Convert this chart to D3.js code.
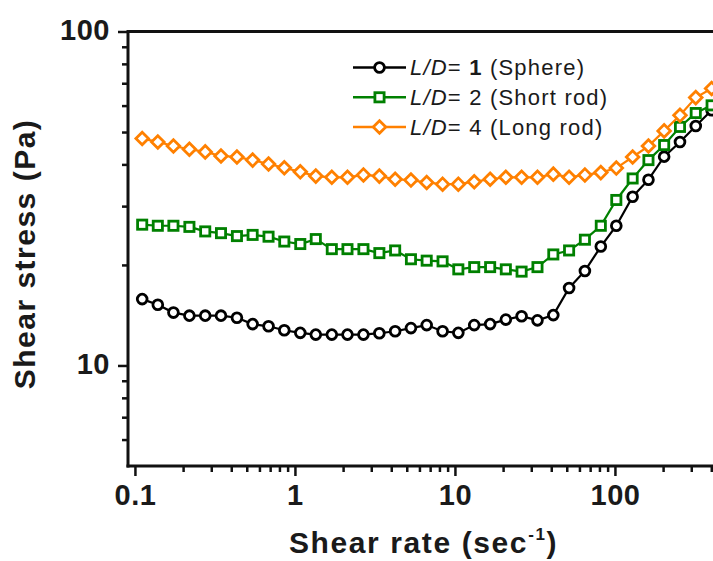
<!DOCTYPE html>
<html>
<head>
<meta charset="utf-8">
<script src="https://cdn.jsdelivr.net/npm/d3@7/dist/d3.min.js"></script>
<style>
  html, body { margin: 0; padding: 0; background: #fff; }
  svg { display: block; }
  text { font-family: "Liberation Sans", Arial, sans-serif; fill: #1a1a1a; }
</style>
</head>
<body>
<svg id="chart" width="713" height="561"></svg>
<script>
// Shear rate (1/s), 10 points per decade
const shearRate = [0.111, 0.139, 0.174, 0.219, 0.275, 0.345, 0.434, 0.544, 0.684, 0.858,
  1.08, 1.35, 1.70, 2.13, 2.68, 3.37, 4.23, 5.31, 6.66, 8.37,
  10.5, 13.2, 16.6, 20.8, 26.1, 32.8, 41.2, 51.7, 64.9, 81.6,
  102, 129, 162, 203, 255, 320, 402];

// Shear stress (Pa) for each particle aspect ratio
const stressSphere = [15.8, 15.2, 14.4, 14.1, 14.1, 14.1, 13.9, 13.3, 13.1, 12.75,
  12.52, 12.37, 12.37, 12.37, 12.37, 12.49, 12.66, 12.94, 13.21, 12.66,
  12.52, 13.21, 13.3, 13.72, 14.04, 13.65, 14.15, 17.06, 19.19, 22.7,
  26.2, 32.0, 36.0, 42.2, 46.7, 52.1, 58.1];
const stressShortRod = [26.4, 26.2, 26.2, 26.0, 25.2, 24.9, 24.4, 24.6, 24.3, 23.5,
  23.1, 23.9, 22.3, 22.3, 22.3, 21.7, 22.1, 20.8, 20.6, 20.5,
  19.4, 19.7, 19.7, 19.4, 19.1, 19.7, 21.5, 22.1, 23.8, 26.2,
  31.3, 36.3, 41.2, 45.7, 51.8, 57.0, 60.1];
const stressLongRod = [47.8, 46.7, 45.4, 44.4, 43.6, 42.4, 42.1, 41.2, 40.1, 39.1,
  38.0, 36.9, 36.6, 36.6, 37.2, 36.9, 36.1, 35.9, 35.3, 34.9,
  34.9, 35.5, 36.1, 36.6, 36.6, 36.6, 37.4, 36.6, 37.2, 37.8,
  39.0, 42.1, 45.4, 50.4, 56.1, 63.4, 67.5];

const seriesNames = ["1", "2", "4"];
const seriesLabels = ["(Sphere)", "(Short rod)", "(Long rod)"];
const seriesColors = ["#000000", "#008000", "#ff8000"];
const seriesShapes = ["circle", "square", "diamond"];

const xTickValues = [0.1, 1, 10, 100];
const xTickLabels = ["0.1", "1", "10", "100"];
const yTickValues = [10, 100];
const yTickLabels = ["10", "100"];

const svg = d3.select("#chart");

const plotLeft = 128, plotTop = 31.5, plotBottom = 466;
const decadePx = 160;
const xMin = 0.0905, xMax = 1000;
const x = d3.scaleLog().domain([xMin, xMax])
  .range([plotLeft, plotLeft + decadePx * Math.log10(xMax / xMin)]);
const y = d3.scaleLog().domain([5, 100]).range([plotBottom, plotTop]);

// minor ticks: 2..9 of each decade
const xMinor = [];
[0.01, 0.1, 1, 10, 100].forEach(d => { for (let k = 2; k <= 9; k++) { const v = d * k; if (v > xMin && v < xMax) xMinor.push(v); } });
const yMinor = [];
[1, 10].forEach(d => { for (let k = 2; k <= 9; k++) { const v = d * k; if (v > 5 && v < 100) yMinor.push(v); } });

const axisColor = "#111";
const axisWidth = 3;

// frame: top line
svg.append("line")
  .attr("x1", plotLeft).attr("x2", x.range()[1])
  .attr("y1", plotTop).attr("y2", plotTop)
  .attr("stroke", axisColor).attr("stroke-width", axisWidth);

// x axis
const gx = svg.append("g").attr("transform", `translate(0,${plotBottom})`);
gx.call(d3.axisBottom(x).tickValues(xTickValues).tickSize(10).tickSizeOuter(0)
  .tickFormat((d, i) => xTickLabels[i]));
gx.append("g").call(d3.axisBottom(x).tickValues(xMinor).tickSize(6).tickFormat(""))
  .select(".domain").remove();
gx.selectAll("path.domain").attr("stroke", axisColor).attr("stroke-width", axisWidth)
  .attr("d", `M${plotLeft - 1.5},0H${x.range()[1]}`);
gx.selectAll(".tick line").attr("stroke", axisColor).attr("stroke-width", 2.5);
gx.selectAll(".tick text")
  .attr("y", 39).attr("dy", 0)
  .style("font-size", "29px").style("font-weight", "bold")
  .style("letter-spacing", "0.5px").style("fill", "#1a1a1a");

// y axis
const gy = svg.append("g").attr("transform", `translate(${plotLeft},0)`);
gy.call(d3.axisLeft(y).tickValues(yTickValues).tickSize(10).tickSizeOuter(0)
  .tickFormat((d, i) => yTickLabels[i]));
gy.append("g").call(d3.axisLeft(y).tickValues(yMinor).tickSize(6).tickFormat(""))
  .select(".domain").remove();
gy.selectAll("path.domain").attr("stroke", axisColor).attr("stroke-width", axisWidth)
  .attr("d", `M0,${plotTop - 1.5}V${plotBottom + 1.5}`);
gy.selectAll(".tick line").attr("stroke", axisColor).attr("stroke-width", 2.5);
gy.selectAll(".tick text")
  .attr("x", -18).attr("dy", "0.27em")
  .style("font-size", "29px").style("font-weight", "bold")
  .style("letter-spacing", "0.5px").style("fill", "#1a1a1a");

// axis titles
const xt = svg.append("text")
  .attr("x", 289).attr("y", 553)
  .style("font-size", "30px").style("font-weight", "bold").style("letter-spacing", "1.6px");
xt.append("tspan").text("Shear rate (sec");
xt.append("tspan").text("-1").style("font-size", "17px").attr("dy", -13);
xt.append("tspan").text(")").attr("dy", 13);

svg.append("text")
  .attr("transform", "translate(35,254) rotate(-90)")
  .attr("text-anchor", "middle")
  .style("font-size", "30px").style("font-weight", "bold").style("letter-spacing", "1.5px")
  .text("Shear stress (Pa)");

// marker drawing
function drawMarker(sel, shape, color) {
  if (shape === "circle") {
    sel.append("circle").attr("r", 4.9)
      .attr("fill", "#fff").attr("stroke", color).attr("stroke-width", 2.8);
  } else if (shape === "square") {
    sel.append("rect").attr("x", -4.6).attr("y", -4.6).attr("width", 9.2).attr("height", 9.2)
      .attr("fill", "#fff").attr("stroke", color).attr("stroke-width", 2.8);
  } else {
    sel.append("path").attr("d", "M0,-6.3L6.3,0L0,6.3L-6.3,0Z")
      .attr("fill", "#fff").attr("stroke", color).attr("stroke-width", 2.8);
  }
}

const allSeries = [stressSphere, stressShortRod, stressLongRod];
const line = d3.line().x(d => x(d[0])).y(d => y(d[1]));

allSeries.forEach((vals, s) => {
  const pts = shearRate.map((r, i) => [r, vals[i]]);
  const g = svg.append("g");
  g.append("path").datum(pts)
    .attr("d", line).attr("fill", "none")
    .attr("stroke", seriesColors[s]).attr("stroke-width", 2.2);
  g.selectAll("g.pt").data(pts).enter().append("g")
    .attr("class", "pt")
    .attr("transform", d => `translate(${x(d[0])},${y(d[1])})`)
    .each(function () { drawMarker(d3.select(this), seriesShapes[s], seriesColors[s]); });
});

// legend
const legendY = [67.5, 97.3, 127];
seriesNames.forEach((n, s) => {
  const g = svg.append("g").attr("transform", `translate(0,${legendY[s]})`);
  g.append("line").attr("x1", 353).attr("x2", 406).attr("y1", 0).attr("y2", 0)
    .attr("stroke", seriesColors[s]).attr("stroke-width", 2.5);
  const m = g.append("g").attr("transform", "translate(379.5,0)");
  drawMarker(m, seriesShapes[s], seriesColors[s]);
  const t = g.append("text").attr("x", 410).attr("dy", "0.36em")
    .style("font-size", "22px").style("letter-spacing", "1.2px");
  t.append("tspan").text("L/D").style("font-style", "italic");
  t.append("tspan").text("= ");
  t.append("tspan").text(n).style("font-weight", s === 0 ? "bold" : "normal");
  t.append("tspan").text(" " + seriesLabels[s]);
});
</script>
</body>
</html>
